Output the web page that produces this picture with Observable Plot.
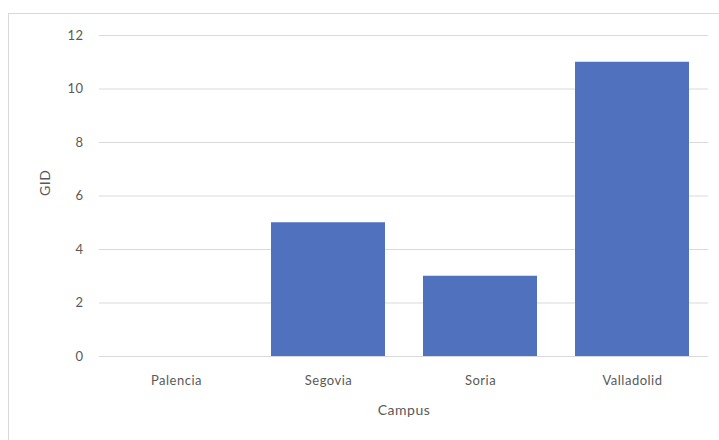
<!DOCTYPE html>
<html>
<head>
<meta charset="utf-8">
<script src="https://cdn.jsdelivr.net/npm/d3@7"></script>
<script src="https://cdn.jsdelivr.net/npm/@observablehq/plot@0.6"></script>
<style>
  html, body { margin: 0; padding: 0; background: #fff; }
  #wrap { position: relative; width: 719px; height: 440px; overflow: hidden; }
  #frame { position: absolute; left: 8px; top: 13px; width: 800px; height: 500px; border: 1px solid #d9d9d9; box-sizing: border-box; pointer-events: none; }
  #chart { position: absolute; left: 0; top: 0; }
  #chart svg text { letter-spacing: 0.5px; }
</style>
</head>
<body>
<div id="wrap"><div id="frame"></div><div id="chart"></div></div>
<script>
const campus = ["Palencia", "Segovia", "Soria", "Valladolid"];
const gid = [0, 5, 3, 11];
const yTicks = [0, 2, 4, 6, 8, 10, 12];

const data = campus.map((c, i) => ({campus: c, gid: gid[i]}));
const font = "Lato, 'Open Sans', sans-serif";

const chart = Plot.plot({
  width: 719,
  height: 440,
  marginLeft: 99,
  marginRight: 11,
  marginTop: 35,
  marginBottom: 84,
  style: {fontFamily: font, fontSize: "13px", color: "#595959", background: "transparent"},
  x: {domain: campus, paddingInner: 0.25, paddingOuter: 0.125, label: null},
  y: {domain: [0, 12], label: null},
  marks: [
    Plot.ruleY(yTicks, {stroke: "#d9d9d9", strokeWidth: 1}),
    Plot.barY(data, {x: "campus", y: "gid", fill: "#4F71BE"}),
    Plot.axisY(yTicks, {tickSize: 0, tickPadding: 16, fill: "#595959", fontSize: 13, label: null}),
    Plot.axisX({tickSize: 0, tickPadding: 19, fill: "#595959", fontSize: 13, label: null}),
    Plot.text(["GID"], {frameAnchor: "left", dx: -54, rotate: -90, fill: "#595959", fontSize: 14}),
    Plot.text(["Campus"], {frameAnchor: "bottom", dy: 58, fill: "#595959", fontSize: 14})
  ]
});
document.getElementById("chart").appendChild(chart);
</script>
</body>
</html>
